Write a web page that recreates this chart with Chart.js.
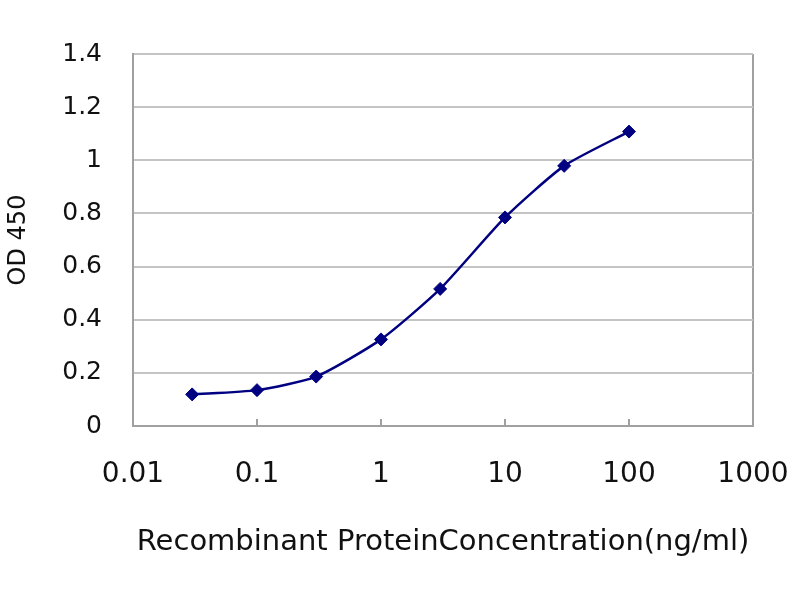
<!DOCTYPE html>
<html>
<head>
<meta charset="utf-8">
<script src="https://cdn.jsdelivr.net/npm/chart.js@4.4.1/dist/chart.umd.min.js"></script>
<style>
  body { margin: 0; background: #fff; }
</style>
</head>
<body>
<canvas id="odChart" width="800" height="600"></canvas>
<script>
const concentration = [0.03, 0.1, 0.3, 1, 3, 10, 30, 100];
const od450 = [0.119, 0.135, 0.186, 0.326, 0.516, 0.785, 0.979, 1.108];

const xTicks = [0.01, 0.1, 1, 10, 100, 1000];
const yTicks = [0, 0.2, 0.4, 0.6, 0.8, 1, 1.2, 1.4];

const xTitle = 'Recombinant ProteinConcentration(ng/ml)';
const yTitle = 'OD 450';

const points = concentration.map((c, i) => ({ x: c, y: od450[i] }));

// small tick marks pointing into the plot, like the Excel original
const innerTicks = {
  id: 'innerTicks',
  afterDraw(chart) {
    const ctx = chart.ctx;
    const x = chart.scales.x;
    const area = chart.chartArea;
    ctx.save();
    ctx.strokeStyle = '#a0a0a0';
    ctx.lineWidth = 2;
    xTicks.slice(1, -1).forEach(v => {
      const px = x.getPixelForValue(v);
      ctx.beginPath();
      ctx.moveTo(px, area.bottom);
      ctx.lineTo(px, area.bottom - 7);
      ctx.stroke();
    });
    ctx.restore();
  }
};

const ctx = document.getElementById('odChart').getContext('2d');
const odChart = new Chart(ctx, {
  type: 'line',
  data: {
    datasets: [{
      label: yTitle,
      data: points,
      borderColor: '#000080',
      backgroundColor: '#000080',
      borderWidth: 2.5,
      pointStyle: 'rectRot',
      pointRadius: 6.5,
      pointBorderWidth: 1,
      tension: 0.2,
      fill: false
    }]
  },
  options: {
    responsive: false,
    animation: false,
    layout: { padding: { left: 0, right: 47, top: 54, bottom: 0 } },
    plugins: {
      legend: { display: false },
      tooltip: { enabled: false }
    },
    scales: {
      x: {
        type: 'logarithmic',
        min: 0.01,
        max: 1000,
        afterBuildTicks: scale => {
          scale.ticks = xTicks.map(v => ({ value: v }));
        },
        afterFit: scale => {
          scale.height = 174;
          scale.paddingRight = 0;
        },
        border: { color: '#a0a0a0', width: 2 },
        grid: {
          drawTicks: false,
          color: c => (c.tick && c.tick.value === 1000 ? '#a0a0a0' : 'rgba(0,0,0,0)'),
          lineWidth: 2
        },
        ticks: {
          padding: 32,
          color: '#111',
          font: { family: 'DejaVu Sans', size: 28 },
          maxRotation: 0,
          autoSkip: false,
          callback: v => String(v)
        },
        title: {
          display: true,
          text: xTitle,
          color: '#111',
          font: { family: 'DejaVu Sans', size: 29 },
          padding: { top: 0, bottom: 40 }
        }
      },
      y: {
        min: 0,
        max: 1.4,
        afterBuildTicks: scale => {
          scale.ticks = yTicks.map(v => ({ value: v }));
        },
        afterFit: scale => { scale.width = 133; },
        border: { color: '#a0a0a0', width: 2 },
        grid: {
          drawTicks: false,
          color: '#c4c4c4',
          lineWidth: 2
        },
        ticks: {
          padding: 31,
          color: '#111',
          font: { family: 'DejaVu Sans', size: 25 },
          callback: v => String(Number(v.toFixed(1)))
        },
        title: {
          display: true,
          text: yTitle,
          color: '#111',
          font: { family: 'DejaVu Sans', size: 24 },
          padding: { top: 4, bottom: 0 }
        }
      }
    }
  },
  plugins: [innerTicks]
});
</script>
</body>
</html>
